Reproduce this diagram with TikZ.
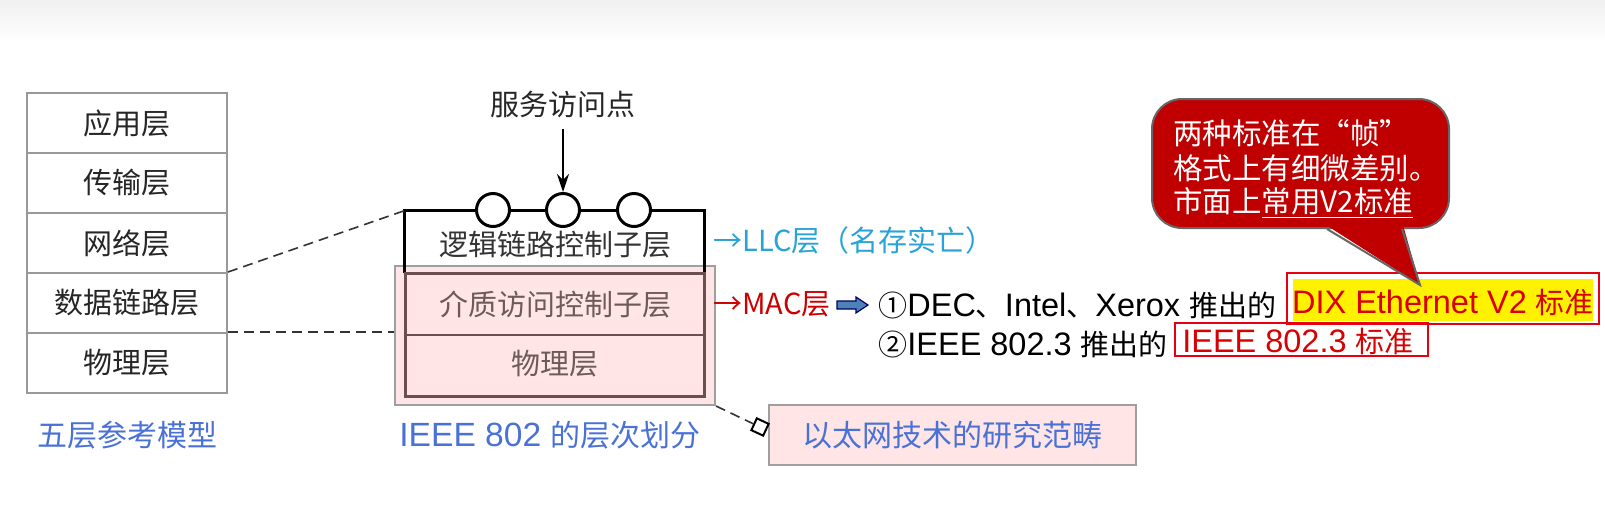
\documentclass[tikz,border=0pt]{standalone}
\usepackage{fontspec}
\setmainfont{Liberation Sans}[Scale=1.12]
\newfontfamily\cjk{Noto Sans CJK SC}
\newcommand{\C}[1]{{\cjk #1}}
\usetikzlibrary{arrows.meta,shapes.geometric,calc}
\definecolor{labelblue}{HTML}{4A72D6}
\definecolor{llcblue}{HTML}{29A3D6}
\definecolor{macred}{HTML}{CC0000}
\definecolor{boxred}{HTML}{E60012}
\definecolor{dixred}{HTML}{D80000}
\definecolor{calloutred}{HTML}{C00000}
\definecolor{pinkfill}{HTML}{FFE5E5}
\definecolor{brownline}{HTML}{6B4F4F}
\definecolor{midtext}{HTML}{6E5A5A}
\begin{document}
\begin{tikzpicture}[x=0.5pt,y=-0.5pt,
  font=\fontsize{14.5}{17}\selectfont,
  layerbox/.style={draw=gray!80, line width=1pt, minimum width=100pt, minimum height=30pt, inner sep=0pt, font=\fontsize{14.5}{17}\selectfont\cjk, text=black!85},
  dashline/.style={dashed, dash pattern=on 5pt off 3pt, line width=0.8pt, draw=black!80},
  sapcircle/.style={circle, draw=black, line width=1.5pt, fill=white, minimum size=16.5pt, inner sep=0pt},
  cjktext/.style={font=\fontsize{14.5}{17}\selectfont\cjk},
  plain/.style={inner sep=0pt, anchor=west},
  whiteline/.style={plain, text=white, font=\fontsize{14.75}{17}\selectfont\cjk}
]
\useasboundingbox (0,0) rectangle (1605,526);
\fill[white] (0,0) rectangle (1605,526);
\shade[top color=black!6, bottom color=white] (0,0) rectangle (1605,42);

% five-layer model
\node[layerbox] (l1) at (127,123) {应用层};
\node[layerbox] (l2) at (127,183) {传输层};
\node[layerbox] (l3) at (127,243) {网络层};
\node[layerbox] (l4) at (127,303) {数据链路层};
\node[layerbox] (l5) at (127,363) {物理层};
\node[cjktext, text=labelblue, font=\fontsize{15}{17}\selectfont\cjk] (fivelbl) at (127,435) {五层参考模型};

% IEEE 802 structure
\node[fill=pinkfill, draw=gray!75, line width=1pt, minimum width=160pt, minimum height=69.5pt, inner sep=0pt] (pinkbox) at (555,335.5) {};
\node[minimum width=149.5pt, minimum height=31pt, inner sep=0pt] (llc) at (554.5,242) {};
\draw[line width=1.5pt] (llc.south west) -- (llc.north west) -- (llc.north east) -- (llc.south east);
\node[draw=brownline, line width=1.5pt, minimum width=149.5pt, minimum height=61.5pt, inner sep=0pt] (inner) at (554.5,334.5) {};
\draw[brownline, line width=1pt] (inner.west) -- (inner.east);

\node[sapcircle] (c1) at (493,210) {};
\node[sapcircle] (c2) at (563,210) {};
\node[sapcircle] (c3) at (634,210) {};
\node[cjktext, text=black!85] (sap) at (563,104) {服务访问点};
\draw[-{Stealth[length=9pt,width=6pt]}, line width=1pt, shorten <=2pt] (sap.south) -- (c2.north);

\node[cjktext, text=black!80] (llctxt) at (555,245) {逻辑链路控制子层};
\node[cjktext, text=midtext] (mactxt) at (555,304) {介质访问控制子层};
\node[cjktext, text=midtext] (phytxt) at (555,364) {物理层};
\node[text=labelblue, font=\fontsize{15}{17}\selectfont] (ieeelbl) at (550,435) {IEEE 802 \C{的层次划分}};

% dashed mapping lines
\draw[dashline] (l4.north east) -- (llc.north west);
\draw[dashline] (l5.north east) -- (l5.north east -| pinkbox.west);

% right-hand labels
\node[plain, text=llcblue, cjktext] (llclbl) at (713,240) {→LLC层（名存实亡）};
\node[plain, text=macred, cjktext] (maclbl) at (713,304) {→MAC层};
\fill[fill=blue!50!cyan!60!black!70, draw=black!60!blue, line width=0.6pt]
  (837,301) -- (856,301) -- (856,297) -- (868,305) -- (856,313) -- (856,309) -- (837,309) -- cycle;
\node[plain] (line1) at (878,305) {\C{①}DEC\C{、}Intel\C{、}Xerox \C{推出的}};
\node[plain] (line2) at (878,344) {\C{②}IEEE 802.3 \C{推出的}};

\node[draw=boxred, line width=1pt, minimum width=156pt, minimum height=25.5pt, inner sep=0pt] (dix) at (1443,298.5) {};
\node[fill=yellow, minimum width=150pt, minimum height=21pt, inner sep=0pt] (dixhl) at (1443,300) {};
\node[text=dixred, inner sep=0pt] (dixtxt) at (1443,302) {DIX Ethernet V2 \C{标准}};

\node[draw=boxred, line width=1pt, minimum width=126.5pt, minimum height=16.5pt, inner sep=0pt] (ieeebox) at (1301.5,339.5) {};
\node[text=dixred, inner sep=0pt] (ieeetxt) at (1298,341) {IEEE 802.3 \C{标准}};

% callout
\node[fill=calloutred, draw=black!60, line width=1pt, rounded corners=15pt, minimum width=148.5pt, minimum height=64.5pt, inner sep=0pt] (callout) at (1300.5,163.5) {};
\coordinate (tip) at (1420,285);
\coordinate (pa) at ($(callout.south)+(26.5,0)$);
\coordinate (pb) at ($(callout.south)+(101.5,0)$);
\fill[calloutred] ($(pa)+(-1,-4)$) -- (tip) -- ($(pb)+(1,-4)$) -- cycle;
\draw[black!60, line width=1pt] (pa) -- (tip) -- (pb);
\node[whiteline] (co1) at (1173,133) {两种标准在“帧”};
\node[whiteline] (co2) at (1173,168) {格式上有细微差别。};
\node[whiteline] (co3) at (1173,203) {市面上\underline{常用V2标准}};

% scope box
\node[fill=pinkfill, draw=gray!75, line width=1pt, minimum width=183.5pt, minimum height=30pt, inner sep=0pt, text=labelblue, font=\fontsize{15}{17}\selectfont\cjk] (scopebox) at (952.5,435) {以太网技术的研究范畴};
\node[rectangle, draw=black, line width=1pt, fill=white, minimum size=6.5pt, inner sep=0pt, rotate=-25] (dm) at (760,427) {};
\draw[dashline] (pinkbox.south east) -- (dm);
\end{tikzpicture}
\end{document}
